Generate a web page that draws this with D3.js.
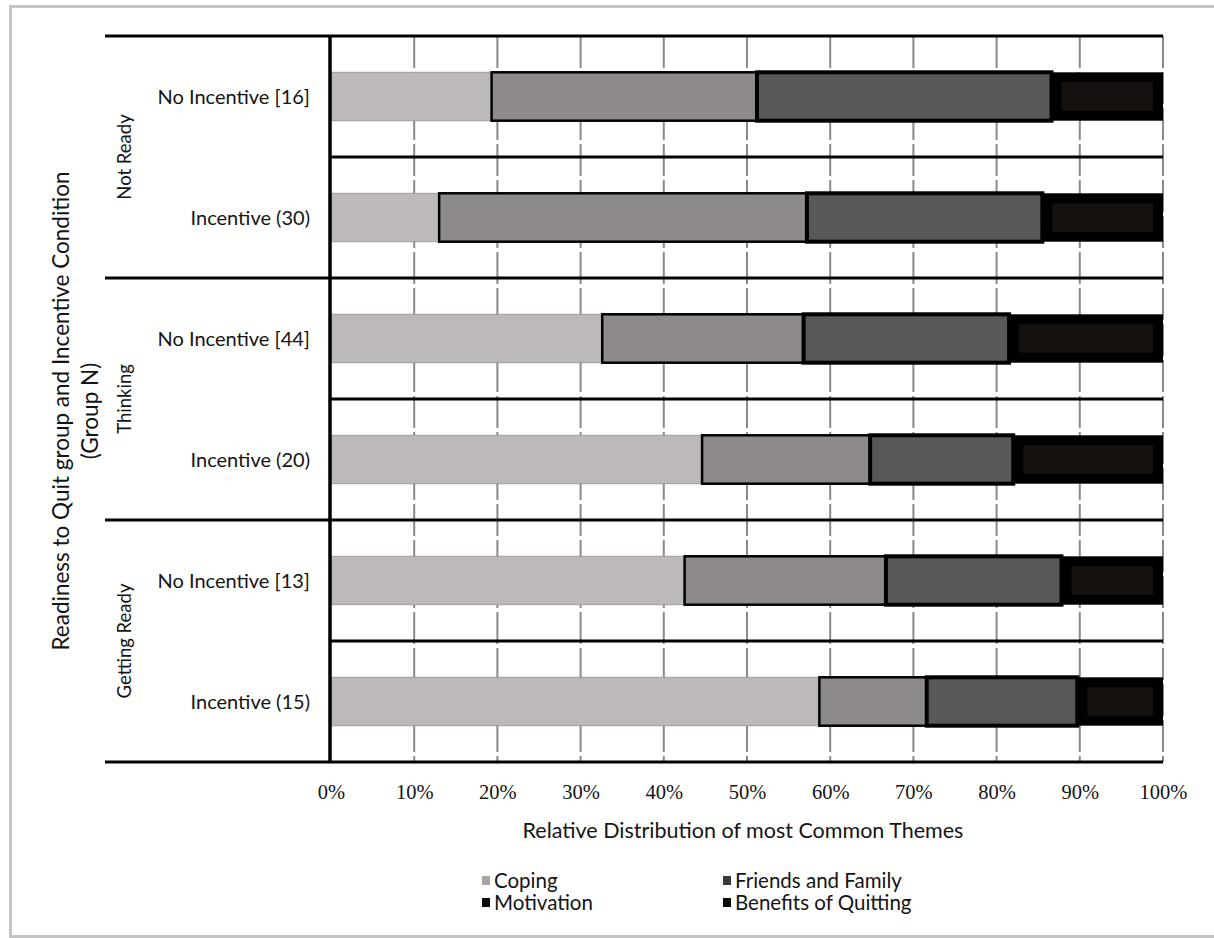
<!DOCTYPE html>
<html>
<head>
<meta charset="utf-8">
<script src="https://cdn.jsdelivr.net/npm/d3@7/dist/d3.min.js"></script>
<style>
  html, body { margin: 0; padding: 0; background: #fff; }
  svg { display: block; }
</style>
</head>
<body>
<svg id="chart" width="1214" height="938"></svg>
<script>
// ---- data ----
const groups = ["Not Ready", "Thinking", "Getting Ready"];
const categories = [
  "No Incentive [16]", "Incentive (30)",
  "No Incentive [44]", "Incentive (20)",
  "No Incentive [13]", "Incentive (15)"
];
const categoryGroup = ["Not Ready", "Not Ready", "Thinking", "Thinking", "Getting Ready", "Getting Ready"];
const seriesNames = ["Coping", "Friends and Family", "Motivation", "Benefits of Quitting"];
const coping          = [19.3, 13.0, 32.6, 44.6, 42.5, 58.7];
const friendsFamily   = [31.9, 44.2, 24.2, 20.2, 24.2, 12.9];
const motivation      = [35.4, 28.3, 24.7, 17.2, 21.1, 18.1];
const benefits        = [13.4, 14.5, 18.5, 18.0, 12.2, 10.3];
const xTicks = [0, 10, 20, 30, 40, 50, 60, 70, 80, 90, 100];
const xTickLabels = ["0%", "10%", "20%", "30%", "40%", "50%", "60%", "70%", "80%", "90%", "100%"];
const yTitle1 = "Readiness to Quit group and Incentive Condition";
const yTitle2 = "(Group N)";
const xTitle = "Relative Distribution  of most Common Themes";

// ---- styles ----
const fills = ["#bdb9b8", "#8e8a89", "#585858", "#000000"];
const strokes = ["#a29c9b", "#000000", "#000000", "#000000"];
const strokeW = [1, 2.5, 4, 0];
const legendFills = ["#aaa4a3", "#3a3a3a", "#0a0a0a", "#0a0a0a"];
const sans = "Lato, 'Open Sans', sans-serif";
const textColor = "#141414";

const svg = d3.select("#chart");

// outer frame
svg.append("rect").attr("x", 10.5).attr("y", 6.5).attr("width", 1240).attr("height", 930)
  .attr("fill", "#fff").attr("stroke", "#c4c4c4").attr("stroke-width", 3);

const plotLeft = 331, plotRight = 1163, plotTop = 36, plotBottom = 762;

const x = d3.scaleLinear().domain([0, 100]).range([plotLeft, plotRight]);
const rows = d3.scaleBand().domain(categories).range([plotTop, plotBottom]).padding(0);
const bars = d3.scaleBand().domain(categories).range([plotTop, plotBottom])
  .paddingInner(0.6).paddingOuter(0.3);

const table = categories.map((c, i) => ({
  cat: c,
  "Coping": coping[i],
  "Friends and Family": friendsFamily[i],
  "Motivation": motivation[i],
  "Benefits of Quitting": benefits[i]
}));
const stacked = d3.stack().keys(seriesNames)(table);

// gridlines
svg.append("g").selectAll("line").data(xTicks.slice(1)).join("line")
  .attr("x1", d => x(d)).attr("x2", d => x(d))
  .attr("y1", plotTop).attr("y2", plotBottom)
  .attr("stroke", "#8a8a8a").attr("stroke-width", 2)
  .attr("stroke-dasharray", "32,4");

// bars
const barG = svg.append("g");
stacked.forEach((layer, si) => {
  const g = barG.append("g");
  g.selectAll("rect").data(layer).join("rect")
    .attr("x", d => x(d[0]))
    .attr("y", d => bars(d.data.cat))
    .attr("width", d => x(d[1]) - x(d[0]))
    .attr("height", bars.bandwidth())
    .attr("fill", fills[si])
    .attr("stroke", strokes[si])
    .attr("stroke-width", strokeW[si]);
  if (si === 3) {
    const inset = 10;
    g.selectAll("rect.inner").data(layer).join("rect").attr("class", "inner")
      .attr("x", d => x(d[0]) + inset)
      .attr("y", d => bars(d.data.cat) + inset)
      .attr("width", d => Math.max(0, x(d[1]) - x(d[0]) - 2 * inset))
      .attr("height", bars.bandwidth() - 2 * inset)
      .attr("fill", "#15110f");
  }
});

// horizontal row lines
const boundaries = categories.map((c, i) => ({ y: rows(c), groupStart: i === 0 || categoryGroup[i] !== categoryGroup[i - 1] }));
boundaries.push({ y: plotBottom, groupStart: true });
svg.append("g").selectAll("line").data(boundaries).join("line")
  .attr("x1", d => d.groupStart ? 105 : plotLeft)
  .attr("x2", plotRight)
  .attr("y1", d => d.y).attr("y2", d => d.y)
  .attr("stroke", "#000").attr("stroke-width", 3);

// vertical axis line
svg.append("line").attr("x1", plotLeft - 1).attr("x2", plotLeft - 1)
  .attr("y1", plotTop).attr("y2", plotBottom)
  .attr("stroke", "#000").attr("stroke-width", 3.5);

// category labels
svg.append("g").selectAll("text").data(categories).join("text")
  .attr("x", 310)
  .attr("y", c => bars(c) + bars.bandwidth() / 2)
  .attr("dy", "0.35em")
  .attr("text-anchor", "end")
  .attr("font-family", sans)
  .attr("font-size", 20)
  .attr("fill", textColor)
  .text(d => d);

// group labels (rotated)
svg.append("g").selectAll("text").data(groups).join("text")
  .attr("transform", gname => {
    const cats = categories.filter((c, i) => categoryGroup[i] === gname);
    const y0 = rows(cats[0]);
    const y1 = rows(cats[cats.length - 1]) + rows.bandwidth();
    return `translate(125,${(y0 + y1) / 2}) rotate(-90)`;
  })
  .attr("text-anchor", "middle")
  .attr("dy", "0.35em")
  .attr("font-family", sans)
  .attr("font-size", 18.5)
  .attr("fill", textColor)
  .text(d => d);

// y title
const yMid = (plotTop + plotBottom) / 2 + 12;
svg.append("text")
  .attr("transform", `translate(61,${yMid}) rotate(-90)`)
  .attr("text-anchor", "middle").attr("dy", "0.35em")
  .attr("font-family", sans)
  .attr("font-size", 22.5).attr("fill", textColor)
  .text(yTitle1);
svg.append("text")
  .attr("transform", `translate(90,${yMid}) rotate(-90)`)
  .attr("text-anchor", "middle").attr("dy", "0.35em")
  .attr("font-family", sans)
  .attr("font-size", 22.5).attr("fill", textColor)
  .text(yTitle2);

// x axis tick labels
const xAxis = d3.axisBottom(x).tickValues(xTicks)
  .tickFormat((d, i) => xTickLabels[i]).tickSize(0).tickPadding(0);
const axG = svg.append("g").attr("transform", `translate(0,${plotBottom + 22})`).call(xAxis);
axG.select(".domain").remove();
axG.selectAll("text")
  .attr("font-family", "'Liberation Serif', 'DejaVu Serif', serif")
  .attr("font-size", 20.5)
  .attr("fill", textColor);

// x title
svg.append("text")
  .attr("x", (plotLeft + plotRight) / 2 - 4).attr("y", 838)
  .attr("text-anchor", "middle")
  .attr("font-family", sans)
  .attr("font-size", 21.5).attr("fill", textColor)
  .text(xTitle);

// legend
const legendPos = [
  { x: 482, y: 881 }, { x: 723, y: 881 },
  { x: 482, y: 903 }, { x: 723, y: 903 }
];
const leg = svg.append("g").selectAll("g").data(seriesNames).join("g")
  .attr("transform", (d, i) => `translate(${legendPos[i].x},${legendPos[i].y})`);
leg.append("rect").attr("x", 0).attr("y", -5).attr("width", 8).attr("height", 9)
  .attr("fill", (d, i) => legendFills[i]);
leg.append("text").attr("x", 12).attr("y", 0).attr("dy", "0.35em")
  .attr("font-family", sans)
  .attr("font-size", 20.5).attr("fill", textColor)
  .text(d => d);
</script>
</body>
</html>
